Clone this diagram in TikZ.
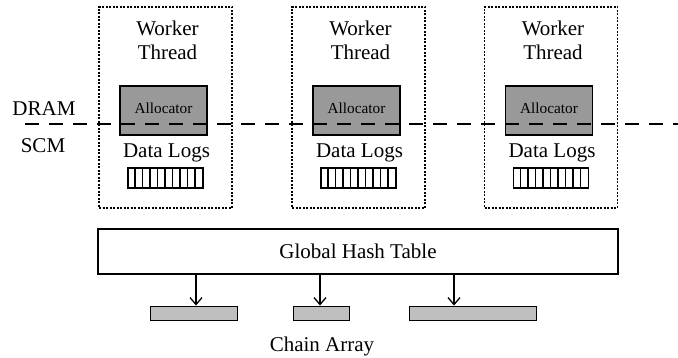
\documentclass[tikz,border=0pt]{standalone}
\usepackage{fontspec}
\setmainfont{Liberation Serif}
\usetikzlibrary{arrows.meta}
\begin{document}
\begin{tikzpicture}[x=1pt,y=-1pt,
  big/.style={font=\fontsize{21}{24}\selectfont},
  wbox/.style={draw,line width=1.5pt,dash pattern=on 2pt off 1.5pt,minimum width=133pt,minimum height=201pt,inner sep=0pt},
  alloc/.style={draw,line width=1.9pt,fill=black!40,minimum width=87pt,minimum height=49pt,inner sep=0pt},
  logbox/.style={draw,line width=1.2pt,minimum width=75pt,minimum height=20pt,inner sep=0pt},
  chain/.style={draw,line width=0.9pt,fill=black!25,minimum height=14pt,inner sep=0pt},
  arr/.style={line width=1.3pt,-{Straight Barb[length=7pt,width=12pt,line width=1.3pt]}}
]
\useasboundingbox (0,0) rectangle (678,358);

\foreach \i/\cx in {1/165.5,2/358.5,3/551} {
  \node[wbox] (w\i) at (\cx,107.5) {};
  \node[big,align=center] (t\i) at (\cx+2,40) {Worker\\Thread};
  \node[alloc] (a\i) at (\cx-2,110.5) {};
  \node[font=\fontsize{15.3}{18}\selectfont] (al\i) at (\cx-2,108.5) {Allocator};
  \node[big] (d\i) at (\cx+1,153) {Data Logs};
  \node[logbox] (l\i) at (\cx,178) {};
  \foreach \k in {1,...,9} {
    \draw[line width=1.2pt] ([xshift=\k*7.5pt]l\i.south west) -- ([xshift=\k*7.5pt]l\i.north west);
  }
}

\coordinate (dl) at (25,124);
\coordinate (dr) at (678,124);
\draw[line width=1.9pt,dash pattern=on 14pt off 10pt] (dl) -- (dr);

\node[big] (dram) at (44,109) {DRAM};
\node[big] (scm) at (43,146) {SCM};

\node[big,draw,line width=1.3pt,minimum width=520pt,minimum height=45pt,inner sep=0pt] (ht) at (358,251.5) {Global Hash Table};

\node[chain,minimum width=87pt] (c1) at (193.5,313) {};
\node[chain,minimum width=56pt] (c2) at (321,313) {};
\node[chain,minimum width=127pt] (c3) at (472.5,313) {};

\coordinate (x1) at (196,0);
\coordinate (x2) at (320,0);
\coordinate (x3) at (454,0);
\foreach \i in {1,2,3} {
  \draw[arr] (ht.south -| x\i) -- (c\i.north -| x\i);
}

\node[big] (ca) at (322,346) {Chain Array};
\end{tikzpicture}
\end{document}
